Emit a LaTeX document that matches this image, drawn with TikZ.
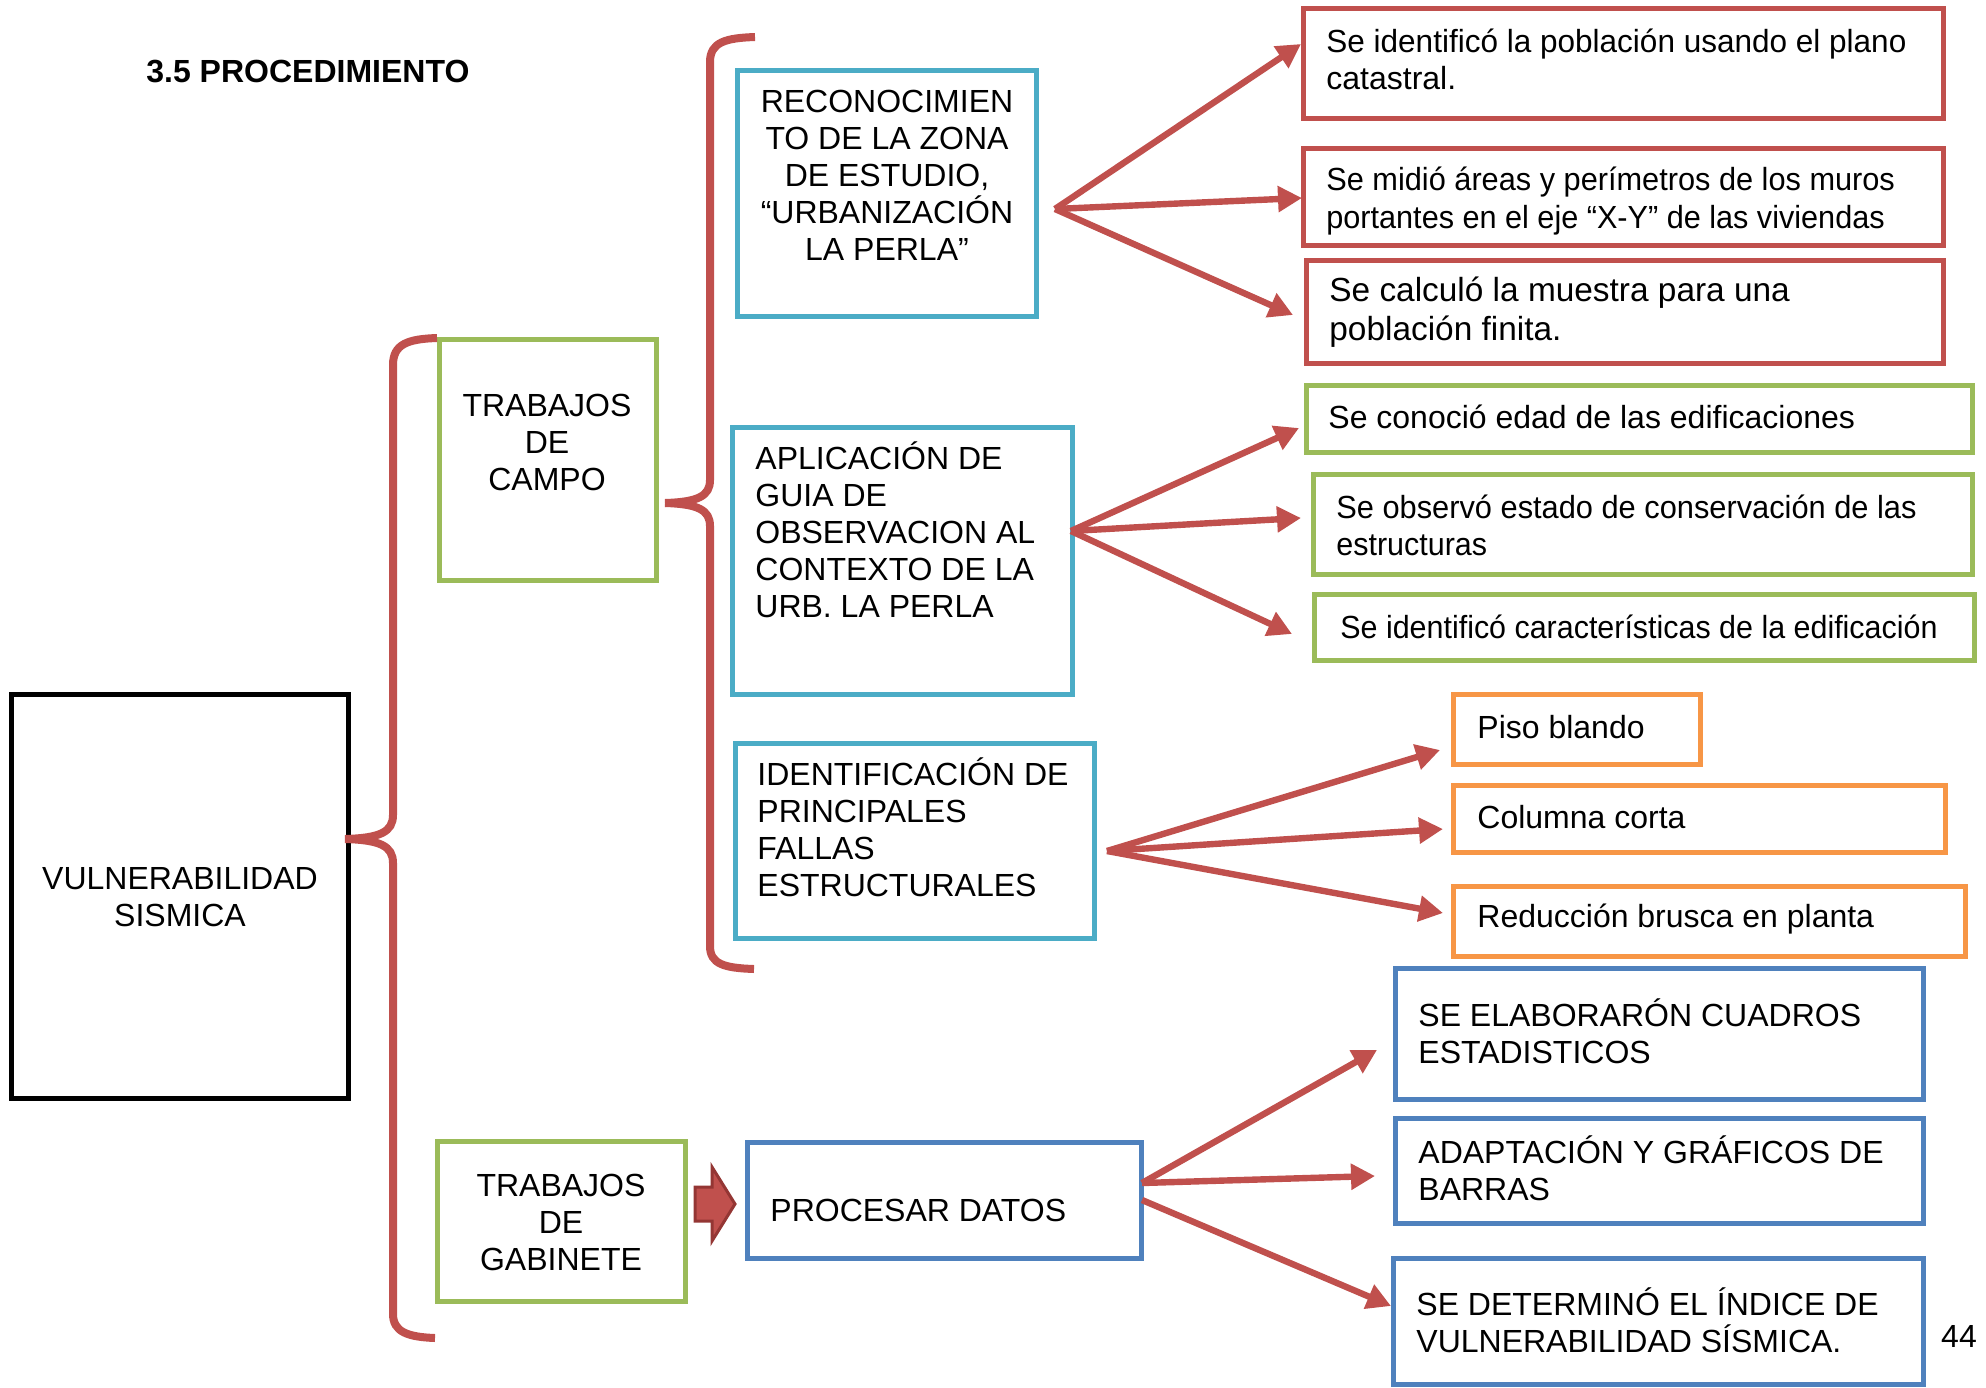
\documentclass[tikz,border=0pt]{standalone}
\usepackage{graphicx}
\usepackage{fontspec}
\setmainfont{Liberation Sans}
\usetikzlibrary{arrows.meta,fit}

\definecolor{cRed}{HTML}{C0504D}
\definecolor{cRedDark}{HTML}{943634}
\definecolor{cGreen}{HTML}{9BBB59}
\definecolor{cCyan}{HTML}{4BACC6}
\definecolor{cBlue}{HTML}{4F81BD}
\definecolor{cOrange}{HTML}{F79646}

% horizontally tightened line of text
\newcommand\tightline[2]{\scalebox{#1}[1]{#2}}

\begin{document}
\begin{tikzpicture}[x=0.5pt,y=-0.5pt,
  frame/.style={draw=#1, line width=2.5pt, inner sep=0pt},
  txt/.style={inner sep=0pt, align=left, font=\fontsize{16pt}{18.5pt}\selectfont},
  ctxt/.style={inner sep=0pt, align=center, font=\fontsize{16pt}{18.5pt}\selectfont},
  link/.style={draw=cRed, line width=3.2pt, -{Triangle[length=12pt,width=12.5pt]}},
  bracket/.style={draw=cRed, line width=4pt}
]
\useasboundingbox (0,0) rectangle (1986,1387);

% title
\node[txt, anchor=west, font=\fontsize{16pt}{18.5pt}\selectfont\bfseries] (title) at (146,72) {3.5 PROCEDIMIENTO};

% main box
\node[frame=black, fit={(11,694) (348,1098)}] (vul) {};
\node[ctxt] (vult) at (180,897) {VULNERABILIDAD\\SISMICA};

% second level
\node[frame=cGreen, fit={(439,339) (656,580)}] (campo) {};
\node[ctxt] (campot) at (547,442) {TRABAJOS\\DE\\CAMPO};
\node[frame=cGreen, fit={(437,1141) (685,1301)}] (gab) {};
\node[ctxt] (gabt) at (561,1222) {TRABAJOS\\DE\\GABINETE};

% third level
\node[frame=cCyan, fit={(737,70) (1036,316)}] (rec) {};
\node[ctxt] (rect) at (887,175) {RECONOCIMIEN\\TO DE LA ZONA\\DE ESTUDIO,\\“URBANIZACIÓN\\LA PERLA”};
\node[frame=cCyan, fit={(732,427) (1072,694)}] (apl) {};
\node[txt, anchor=west] (aplt) at (755,530) {APLICACIÓN DE\\GUIA DE\\OBSERVACION AL\\CONTEXTO DE LA\\URB. LA PERLA};
\node[frame=cCyan, fit={(735,743) (1094,938)}] (ide) {};
\node[txt, anchor=west] (idet) at (757,827) {IDENTIFICACIÓN DE\\PRINCIPALES\\FALLAS\\ESTRUCTURALES};
\node[frame=cBlue, fit={(747,1142) (1141,1258)}] (pro) {};
\node[txt, anchor=west] (prot) at (770,1210) {PROCESAR DATOS};

% leaves: red
\node[frame=cRed, fit={(1303,8) (1943,118)}] (r1) {};
\node[txt, anchor=west] (r1t) at (1326,59) {\tightline{0.985}{Se identificó la población usando el plano}\\catastral.};
\node[frame=cRed, fit={(1303,148) (1943,245)}] (r2) {};
\node[txt, anchor=west, font=\fontsize{16pt}{19pt}\selectfont] (r2t) at (1326,201) {\tightline{0.96}{Se midió áreas y perímetros de los muros}\\\tightline{0.957}{portantes en el eje “X-Y” de las viviendas}};
\node[frame=cRed, fit={(1306,260) (1943,363)}] (r3) {};
\node[txt, anchor=west, font=\fontsize{16.7pt}{19.5pt}\selectfont] (r3t) at (1329,312) {Se calculó la muestra para una\\población finita.};

% leaves: green
\node[frame=cGreen, fit={(1306,385) (1972,452)}] (g1) {};
\node[txt, anchor=west] (g1t) at (1328,417) {Se conoció edad de las edificaciones};
\node[frame=cGreen, fit={(1313,474) (1972,574)}] (g2) {};
\node[txt, anchor=west] (g2t) at (1336,525) {\tightline{0.962}{Se observó estado de conservación de las}\\\tightline{0.952}{estructuras}};
\node[frame=cGreen, fit={(1314,594) (1974,660)}] (g3) {};
\node[txt, anchor=west] (g3t) at (1340,627) {\tightline{0.951}{Se identificó características de la edificación}};

% leaves: orange
\node[frame=cOrange, fit={(1453,694) (1700,764)}] (o1) {};
\node[txt, anchor=west] (o1t) at (1477,727) {Piso blando};
\node[frame=cOrange, fit={(1453,785) (1945,852)}] (o2) {};
\node[txt, anchor=west] (o2t) at (1477,817) {Columna corta};
\node[frame=cOrange, fit={(1453,886) (1965,956)}] (o3) {};
\node[txt, anchor=west] (o3t) at (1477,919) {Reducción brusca en planta};

% leaves: blue
\node[frame=cBlue, fit={(1395,968) (1923,1099)}] (b1) {};
\node[txt, anchor=west] (b1t) at (1418,1031) {SE ELABORARÓN CUADROS\\ESTADISTICOS};
\node[frame=cBlue, fit={(1395,1118) (1923,1223)}] (b2) {};
\node[txt, anchor=west] (b2t) at (1418,1168) {ADAPTACIÓN Y GRÁFICOS DE\\BARRAS};
\node[frame=cBlue, fit={(1393,1258) (1923,1384)}] (b3) {};
\node[txt, anchor=west] (b3t) at (1416,1320) {SE DETERMINÓ EL ÍNDICE DE\\VULNERABILIDAD SÍSMICA.};

% page number
\node[txt] (pnum) at (1959,1336) {44};

% curly brackets
\draw[bracket] (437,338) .. controls (408,339) and (393,344) .. (393,365)
  -- (393,815) .. controls (393,832) and (380,838) .. (345,839);
\draw[bracket] (345,839) .. controls (380,840) and (393,846) .. (393,863)
  -- (393,1314) .. controls (393,1332) and (408,1337) .. (435,1338);
\draw[bracket] (755,37) .. controls (726,38) and (710,42) .. (710,62)
  -- (710,480) .. controls (710,496) and (698,502) .. (665,503);
\draw[bracket] (665,503) .. controls (698,504) and (710,510) .. (710,526)
  -- (710,946) .. controls (710,964) and (724,968) .. (754,969);

% arrow hubs and targets
\coordinate (recO) at (1055,209);
\coordinate (r1a) at (1301,44);
\coordinate (r2a) at (1302,198);
\coordinate (r3a) at (1293,315);
\coordinate (aplO) at (1071,531);
\coordinate (g1a) at (1299,428);
\coordinate (g2a) at (1301,518);
\coordinate (g3a) at (1292,634);
\coordinate (ideO) at (1107,851);
\coordinate (o1a) at (1440,750);
\coordinate (o2a) at (1443,829);
\coordinate (o3a) at (1443,913);
\coordinate (proO) at (1142,1183);
\coordinate (proO2) at (1142,1200);
\coordinate (b1a) at (1377,1050);
\coordinate (b2a) at (1375,1176);
\coordinate (b3a) at (1391,1306);

\draw[link] (recO) -- (r1a);
\draw[link] (recO) -- (r2a);
\draw[link] (recO) -- (r3a);
\draw[link] (aplO) -- (g1a);
\draw[link] (aplO) -- (g2a);
\draw[link] (aplO) -- (g3a);
\draw[link] (ideO) -- (o1a);
\draw[link] (ideO) -- (o2a);
\draw[link] (ideO) -- (o3a);
\draw[link] (proO) -- (b1a);
\draw[link] (proO) -- (b2a);
\draw[link] (proO2) -- (b3a);

% block arrow between the two stages
\draw[fill=cRed, draw=cRedDark, line width=1.5pt, line join=miter]
  (695,1187) -- (712,1187) -- (712,1167) -- (735,1204) -- (712,1241)
  -- (712,1221) -- (695,1221) -- cycle;
\end{tikzpicture}
\end{document}
